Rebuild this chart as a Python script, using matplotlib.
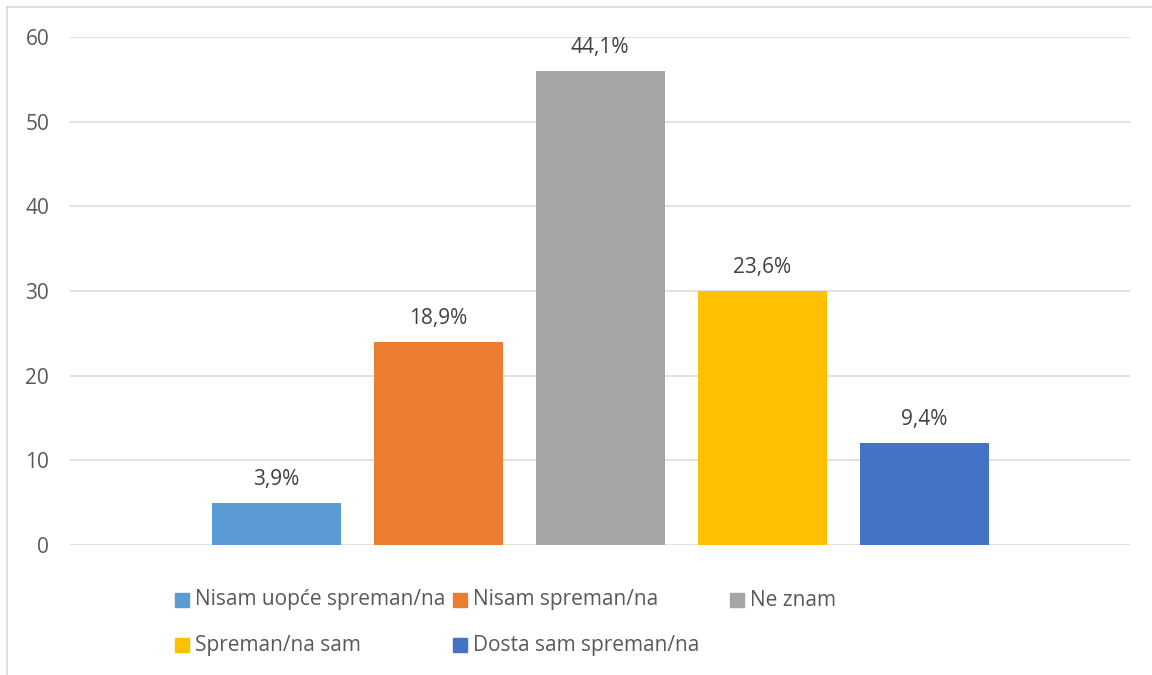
import matplotlib.pyplot as plt
from matplotlib.patches import Rectangle
from matplotlib.lines import Line2D

categories = ['Nisam uopće spreman/na', 'Nisam spreman/na', 'Ne znam',
              'Spreman/na sam', 'Dosta sam spreman/na']
counts = [5, 24, 56, 30, 12]
pct_labels = ['3,9%', '18,9%', '44,1%', '23,6%', '9,4%']
colors = ['#5B9BD5', '#ED7D31', '#A5A5A5', '#FFC000', '#4472C4']
yticks = [0, 10, 20, 30, 40, 50, 60]

txt = '#595959'
plt.rcParams['font.family'] = ['Open Sans', 'DejaVu Sans']

W, H = 1152, 675
fig = plt.figure(figsize=(W / 100, H / 100), dpi=100)
ax = fig.add_axes([70 / W, 1 - 545 / H, 1060 / W, 508 / H])

x = list(range(len(counts)))
bars = ax.bar(x, counts, width=129 / 162, color=colors, zorder=3)
half = 1060 / 162 / 2
ax.set_xlim(2 - half, 2 + half)
ax.set_ylim(0, 60)
ax.set_yticks(yticks)
ax.set_xticks([])
ax.grid(axis='y', color='#D9D9D9', linewidth=1.1, zorder=0)
for s in ax.spines.values():
    s.set_visible(False)
ax.tick_params(axis='y', length=0, pad=15, labelsize=15, labelcolor=txt)

for b, lab in zip(bars, pct_labels):
    ax.annotate(lab, (b.get_x() + b.get_width() / 2, b.get_height()),
                xytext=(0, 13), textcoords='offset points',
                ha='center', va='baseline', fontsize=15, color='#404040')

# outer chart frame (left and top edges visible)
fig.add_artist(Line2D([7 / W, 7 / W], [0, 1 - 7 / H], color='#D9D9D9', lw=1.2))
fig.add_artist(Line2D([7 / W, 1], [1 - 7 / H, 1 - 7 / H], color='#D9D9D9', lw=1.2))

# legend, laid out row-wise like the original
leg_pos = [(175, 600), (453, 600), (730, 600), (175, 645), (453, 645)]
for (px, py), name, c in zip(leg_pos, categories, colors):
    fig.add_artist(Rectangle((px / W, 1 - (py + 7) / H), 14 / W, 14 / H,
                             color=c, transform=fig.transFigure))
    fig.text((px + 20) / W, 1 - py / H, name, ha='left', va='center',
             fontsize=15, color=txt)

fig.savefig('out.png', dpi=100)
